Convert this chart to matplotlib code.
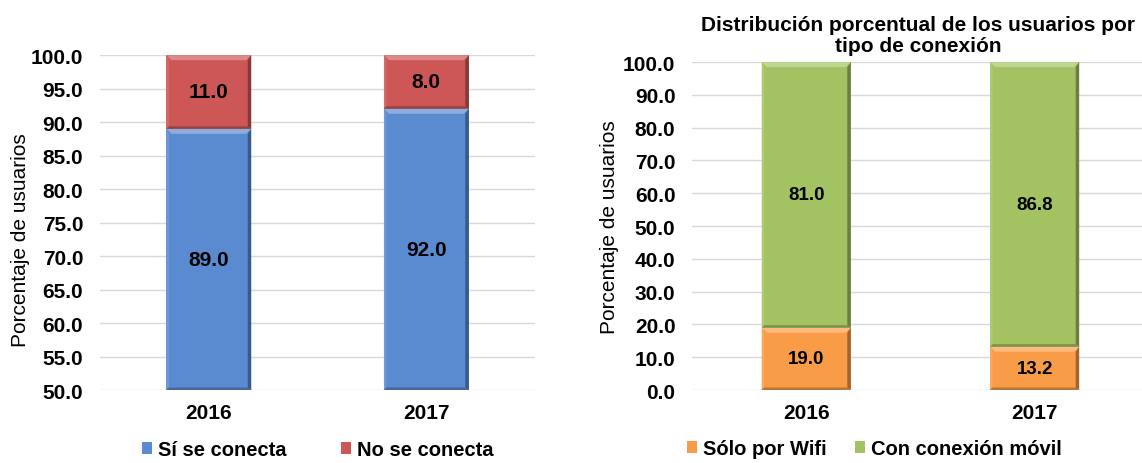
import matplotlib
matplotlib.use("Agg")
import matplotlib.pyplot as plt
from matplotlib.patches import Polygon
from matplotlib.colors import to_rgb

plt.rcParams["font.family"] = ["Liberation Sans", "DejaVu Sans"]

years = ["2016", "2017"]

# left panel: conexión a internet
si_conecta = [89.0, 92.0]
no_conecta = [11.0, 8.0]

# right panel: tipo de conexión
solo_wifi = [19.0, 13.2]
con_movil = [81.0, 86.8]

BLUE = "#5A8BD1"
RED = "#CD5756"
ORANGE = "#F99C48"
GREEN = "#A3C363"
GRID = "#D9D9D9"
FS = 15


def _shade(color, f):
    r, g, b = to_rgb(color)
    if f > 0:
        return (r + (1 - r) * f, g + (1 - g) * f, b + (1 - b) * f)
    return (r * (1 + f), g * (1 + f), b * (1 + f))


def _bevel(ax, patch, color, px=5):
    """Fake the Excel bevel: light top/left rim, dark right/bottom rim."""
    fig = ax.figure
    bbox = ax.get_position()
    w_px = bbox.width * fig.get_figwidth() * fig.dpi
    h_px = bbox.height * fig.get_figheight() * fig.dpi
    x0, x1 = ax.get_xlim()
    y0, y1 = ax.get_ylim()
    dx = px * (x1 - x0) / w_px
    dy = px * (y1 - y0) / h_px
    l = patch.get_x()
    r = l + patch.get_width()
    b = max(patch.get_y(), y0)
    t = patch.get_y() + patch.get_height()
    faces = [
        ([(l, t), (r, t), (r - dx, t - dy), (l + dx, t - dy)], _shade(color, 0.3)),
        ([(l, b), (l, t), (l + dx * 0.5, t - dy), (l + dx * 0.5, b + dy * 0.5)], _shade(color, 0.12)),
        ([(r, t), (r, b), (r - dx * 0.7, b + dy * 0.5), (r - dx * 0.7, t - dy)], _shade(color, -0.35)),
        ([(l, b), (r, b), (r - dx * 0.7, b + dy * 0.5), (l + dx * 0.5, b + dy * 0.5)], _shade(color, -0.25)),
    ]
    for pts, c in faces:
        ax.add_patch(Polygon(pts, closed=True, facecolor=c, edgecolor="none", zorder=3))


def _style(ax, ylim, step):
    ax.set_ylim(*ylim)
    ax.set_yticks([ylim[0] + i * step for i in range(int((ylim[1] - ylim[0]) / step) + 1)])
    ax.set_yticklabels([f"{v:.1f}" for v in ax.get_yticks()], fontsize=FS, fontweight="bold")
    ax.set_xticks(range(len(years)))
    ax.set_xticklabels(years, fontsize=FS, fontweight="bold")
    ax.tick_params(axis="both", length=0)
    ax.tick_params(axis="y", pad=12)
    ax.tick_params(axis="x", pad=9)
    for s in ax.spines.values():
        s.set_visible(False)
    ax.grid(axis="y", color=GRID, linewidth=1)
    ax.set_axisbelow(True)
    ax.set_ylabel("Porcentaje de usuarios", fontsize=FS)


fig = plt.figure(figsize=(11.42, 4.64), dpi=100)
ax1 = fig.add_axes([0.0876, 0.1573, 0.381, 0.7217])
ax2 = fig.add_axes([0.606, 0.1573, 0.4, 0.7068])

x = list(range(len(years)))
width = 0.39

# left panel
ax1.set_xlim(-0.5, 1.5)
_style(ax1, (50, 100), 5)
ax1.yaxis.set_label_coords(-0.162, 0.45)
b1 = ax1.bar(x, si_conecta, width, color=BLUE, zorder=2, label="Sí se conecta")
b2 = ax1.bar(x, no_conecta, width, bottom=si_conecta, color=RED, zorder=2, label="No se conecta")
for bars, vals, base, col in [(b1, si_conecta, [0, 0], BLUE), (b2, no_conecta, si_conecta, RED)]:
    for p, v, bs in zip(bars, vals, base):
        _bevel(ax1, p, col)
        y = (max(bs, 50) + bs + v) / 2
        ax1.text(p.get_x() + p.get_width() / 2, y, f"{v:.1f}", ha="center", va="center",
                 fontsize=FS, fontweight="bold", zorder=4)
ax1.legend(loc="upper center", bbox_to_anchor=(0.5, -0.095), ncol=2, frameon=False,
           prop={"weight": "bold", "size": 14.5}, handlelength=0.5,
           handleheight=0.5, columnspacing=2.7, handletextpad=0.3)

# right panel
ax2.set_xlim(-0.5, 1.5)
_style(ax2, (0, 100), 10)
ax2.yaxis.set_label_coords(-0.16, 0.5)
b3 = ax2.bar(x, solo_wifi, width, color=ORANGE, zorder=2, label="Sólo por Wifi")
b4 = ax2.bar(x, con_movil, width, bottom=solo_wifi, color=GREEN, zorder=2, label="Con conexión móvil")
for bars, vals, base, col in [(b3, solo_wifi, [0, 0], ORANGE), (b4, con_movil, solo_wifi, GREEN)]:
    for p, v, bs in zip(bars, vals, base):
        _bevel(ax2, p, col)
        ax2.text(p.get_x() + p.get_width() / 2, bs + v / 2, f"{v:.1f}", ha="center", va="center",
                 fontsize=13.5, fontweight="bold", zorder=4)
ax2.legend(loc="upper center", bbox_to_anchor=(0.40, -0.095), ncol=2, frameon=False,
           prop={"weight": "bold", "size": 14.5}, handlelength=0.5,
           handleheight=0.5, columnspacing=1.4, handletextpad=0.3)
ax2.set_title("Distribución porcentual de los usuarios por\ntipo de conexión",
              fontsize=FS, fontweight="bold", pad=8, x=0.495, linespacing=1.15)

fig.savefig("out.png", dpi=100)
